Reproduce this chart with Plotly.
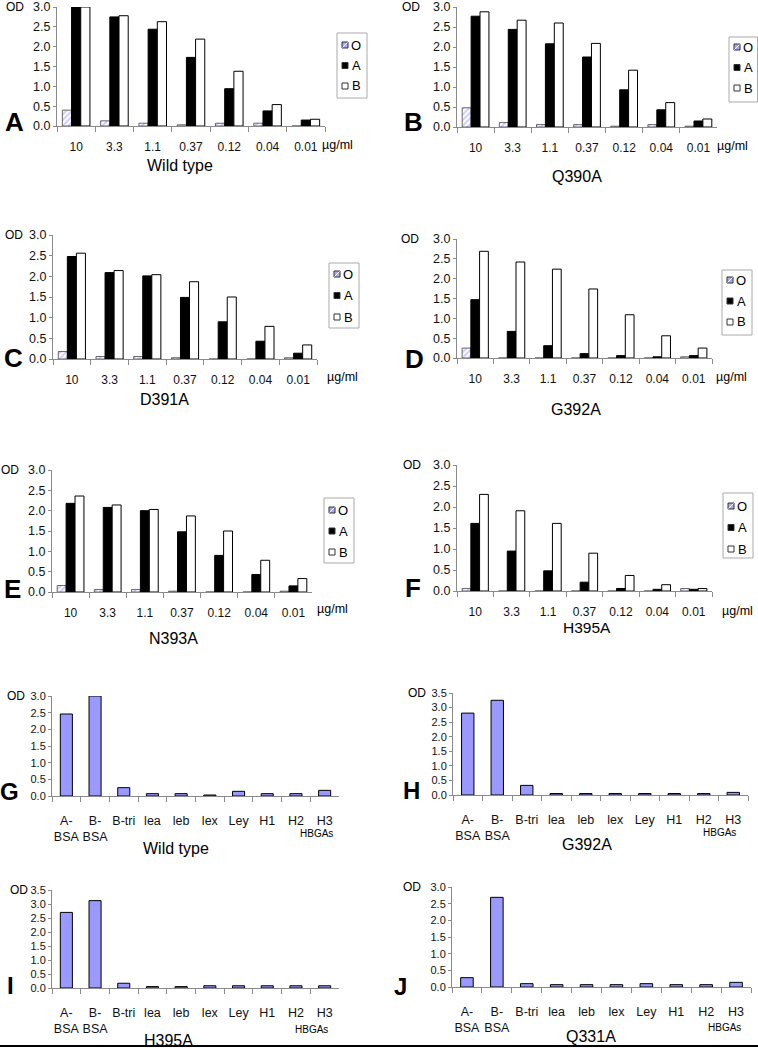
import plotly.graph_objects as go

# ---------------- data ----------------
conc = ["10", "3.3", "1.1", "0.37", "0.12", "0.04", "0.01"]
groups = ["O", "A", "B"]

A_O = [0.40, 0.13, 0.07, 0.03, 0.07, 0.07, 0.0]
A_A = [3.0, 2.75, 2.44, 1.73, 0.94, 0.38, 0.15]
A_B = [3.0, 2.78, 2.63, 2.19, 1.38, 0.54, 0.17]

B_O = [0.48, 0.11, 0.06, 0.06, 0.02, 0.06, 0.02]
B_A = [2.77, 2.44, 2.08, 1.75, 0.93, 0.43, 0.15]
B_B = [2.88, 2.67, 2.60, 2.09, 1.42, 0.61, 0.20]

C_O = [0.18, 0.06, 0.06, 0.03, 0.0, 0.0, 0.03]
C_A = [2.48, 2.09, 2.01, 1.49, 0.90, 0.43, 0.14]
C_B = [2.56, 2.14, 2.04, 1.87, 1.50, 0.79, 0.34]

D_O = [0.25, 0.0, 0.0, 0.0, 0.0, 0.0, 0.03]
D_A = [1.47, 0.67, 0.31, 0.11, 0.06, 0.03, 0.06]
D_B = [2.69, 2.42, 2.24, 1.74, 1.09, 0.56, 0.25]

E_O = [0.16, 0.06, 0.06, 0.02, 0.0, 0.0, 0.02]
E_A = [2.18, 2.08, 2.00, 1.48, 0.90, 0.43, 0.15]
E_B = [2.36, 2.14, 2.03, 1.87, 1.50, 0.78, 0.33]

F_O = [0.06, 0.0, 0.0, 0.0, 0.0, 0.0, 0.06]
F_A = [1.61, 0.95, 0.48, 0.21, 0.06, 0.04, 0.04]
F_B = [2.30, 1.91, 1.61, 0.90, 0.37, 0.15, 0.06]

hbga = ["A-BSA", "B-BSA", "B-tri", "lea", "leb", "lex", "Ley", "H1", "H2", "H3"]
hbga_labels = ["A-<br>BSA", "B-<br>BSA", "B-tri", "lea", "leb", "lex", "Ley", "H1", "H2", "H3"]

G_vals = [2.46, 3.0, 0.25, 0.07, 0.07, 0.03, 0.14, 0.07, 0.07, 0.17]
H_vals = [2.81, 3.25, 0.33, 0.05, 0.05, 0.05, 0.05, 0.05, 0.05, 0.09]
I_vals = [2.70, 3.12, 0.17, 0.05, 0.05, 0.08, 0.08, 0.08, 0.08, 0.08]
J_vals = [0.28, 2.69, 0.10, 0.07, 0.07, 0.07, 0.10, 0.07, 0.07, 0.14]

# ---------------- layout helpers ----------------
W, H = 758, 1048
def px(x):
    return x / W
def py(y):
    return 1 - y / H

ARIAL = "Liberation Sans, Arial, sans-serif"
AXC = "#8a8a8a"
O_FILL = "#a9a9f5"

series_style = {
    "O": dict(color="white", line=dict(color="#444", width=0.8),
              pattern=dict(shape="/", fgcolor="#8c8cff", bgcolor="white", size=4, solidity=0.45)),
    "A": dict(color="black", line=dict(color="black", width=1)),
    "B": dict(color="white", line=dict(color="black", width=1)),
}
swatch_fill = {"O": O_FILL, "A": "black", "B": "white"}

upper = [
    ("A", "Wild type", A_O, A_A, A_B, (57, 325, 7, 126), (337, 33, 45, 20.5), (14, 122), (15, 7), (337, 145), (180, 166)),
    ("B", "Q390A", B_O, B_A, B_B, (457, 717, 7, 127), (729, 37, 47, 20.5), (413, 122), (411, 7), (732, 146), (577, 176)),
    ("C", "D391A", C_O, C_A, C_B, (53, 317, 235, 359), (329, 263, 274, 21.5), (13, 358), (14, 235), (342, 377), (164, 399)),
    ("D", "G392A", D_O, D_A, D_B, (457, 712, 239, 358), (722, 270, 280, 21), (414, 359), (410, 239), (731, 377), (576, 409)),
    ("E", "N393A", E_O, E_A, E_B, (52, 312, 470, 592), (324, 498, 510, 21), (12, 589), (10, 470), (332, 609), (173, 638)),
    ("F", "H395A", F_O, F_A, F_B, (457, 712, 465, 591), (723, 493, 506, 21.5), (413, 588), (412, 465), (737, 611), (587, 627)),
]

lower = [
    ("G", "Wild type", G_vals, 3.0, (52, 339, 696, 796), (9, 791), (16, 696), (316, 833), (176, 848)),
    ("H", "G392A", H_vals, 3.5, (453, 748, 693, 795), (411, 790), (417, 693), (719, 832), (587, 844)),
    ("I", "H395A", I_vals, 3.5, (52, 339, 890, 988), (10, 985), (19, 890), (311, 1029), (168, 1040)),
    ("J", "Q331A", J_vals, 3.0, (452, 751, 887, 987), (400, 986), (412, 887), (724, 1027), (591, 1036)),
]

fig = go.Figure()
layout = dict(
    width=W, height=H, margin=dict(l=0, r=0, t=0, b=0, autoexpand=False),
    paper_bgcolor="white", plot_bgcolor="white", showlegend=False,
    barmode="group", bargap=0.28, bargroupgap=0.0,
    font=dict(family=ARIAL, size=12, color="#111"),
)
annotations = []
shapes = []

def ann(text, x, y, size, bold=False):
    annotations.append(dict(
        text=f"<b>{text}</b>" if bold else text,
        x=px(x), y=py(y), xref="paper", yref="paper",
        xanchor="center", yanchor="middle", showarrow=False,
        font=dict(size=size, family=ARIAL, color="#000"),
    ))

def legend_box(L, T, first, spacing):
    w, h = 30, 65
    shapes.append(dict(type="rect", xref="paper", yref="paper",
                       x0=px(L), x1=px(min(L + w, W - 0.5)), y0=py(T), y1=py(T + h),
                       line=dict(color="#aaa", width=1), fillcolor="white", layer="above"))
    for k, g in enumerate(groups):
        yc = first + k * spacing
        shapes.append(dict(type="rect", xref="paper", yref="paper",
                           x0=px(L + 5), x1=px(L + 11), y0=py(yc - 3), y1=py(yc + 3),
                           line=dict(color="#333", width=1), fillcolor=swatch_fill[g], layer="above"))
        if g == "O":
            shapes.append(dict(type="line", xref="paper", yref="paper",
                               x0=px(L + 5.5), x1=px(L + 10.5), y0=py(yc + 2.5), y1=py(yc - 2.5),
                               line=dict(color="white", width=1), layer="above"))
        ann(g, L + 19, yc, 13)

idx = 0
for (let, title, O, Av, Bv, box, leg, lp, odp, up, tp) in upper:
    idx += 1
    xa = "x" if idx == 1 else f"x{idx}"
    ya = "y" if idx == 1 else f"y{idx}"
    x0, x1, yt, yz = box
    layout["xaxis" if idx == 1 else f"xaxis{idx}"] = dict(
        domain=[px(x0), px(x1)], anchor=ya, type="category",
        showline=True, linecolor=AXC, linewidth=1, showgrid=False, zeroline=False,
        ticks="outside", tickson="boundaries", ticklen=5, tickcolor=AXC,
        tickfont=dict(size=12, family=ARIAL, color="#111"), ticklabelstandoff=10,
        tickangle=0, automargin=False, fixedrange=True,
    )
    layout["yaxis" if idx == 1 else f"yaxis{idx}"] = dict(
        domain=[py(yz), py(yt)], anchor=xa, range=[0, 3.0], dtick=0.5, tickformat=".1f",
        showline=True, linecolor=AXC, linewidth=1, showgrid=False, zeroline=False,
        ticks="outside", ticklen=3, tickcolor=AXC, ticklabeloverflow="allow",
        tickfont=dict(size=12.5, family=ARIAL, color="#111"),
        automargin=False, fixedrange=True,
    )
    for g, vals in zip(groups, (O, Av, Bv)):
        fig.add_trace(go.Bar(x=conc, y=vals, name=g, xaxis=xa, yaxis=ya,
                             marker=series_style[g], showlegend=False))
    legend_box(*leg)
    ann(let, lp[0], lp[1], 26, bold=True)
    ann("OD", odp[0], odp[1], 12)
    ann("µg/ml", up[0], up[1], 12.5)
    ann(title, tp[0], tp[1], 16 if idx != 6 else 15.5)

for (let, title, vals, ymax, box, lp, odp, hp, tp) in lower:
    idx += 1
    xa = f"x{idx}"
    ya = f"y{idx}"
    x0, x1, yt, yz = box
    layout[f"xaxis{idx}"] = dict(
        domain=[px(x0), px(x1)], anchor=ya, type="category",
        tickmode="array", tickvals=hbga, ticktext=hbga_labels,
        showline=True, linecolor=AXC, linewidth=1, showgrid=False, zeroline=False,
        ticks="outside", tickson="boundaries", ticklen=5, tickcolor=AXC,
        tickfont=dict(size=12.5, family=ARIAL, color="#111"), ticklabelstandoff=13,
        tickangle=0, automargin=False, fixedrange=True,
    )
    layout[f"yaxis{idx}"] = dict(
        domain=[py(yz), py(yt)], anchor=xa, range=[0, ymax], dtick=0.5, tickformat=".1f",
        showline=True, linecolor=AXC, linewidth=1, showgrid=False, zeroline=False,
        ticks="outside", ticklen=3, tickcolor=AXC, ticklabeloverflow="allow",
        tickfont=dict(size=11, family=ARIAL, color="#111"),
        automargin=False, fixedrange=True,
    )
    fig.add_trace(go.Bar(
        x=hbga, y=vals, xaxis=xa, yaxis=ya, showlegend=False, width=0.42,
        marker=dict(color="#9999ff", line=dict(color="black", width=1)),
    ))
    ann(let, lp[0], lp[1], 24, bold=True)
    ann("OD", odp[0], odp[1], 12)
    ann("HBGAs", hp[0], hp[1], 10)
    ann(title, tp[0], tp[1], 16)

shapes.append(dict(type="line", xref="paper", yref="paper", x0=0, x1=1,
                   y0=py(1046), y1=py(1046), line=dict(color="black", width=2)))
layout["annotations"] = annotations
layout["shapes"] = shapes
fig.update_layout(**layout)
fig.write_html("out.html", config={"displayModeBar": False},
               post_script="document.body.style.margin='0';document.body.style.overflow='hidden';")
